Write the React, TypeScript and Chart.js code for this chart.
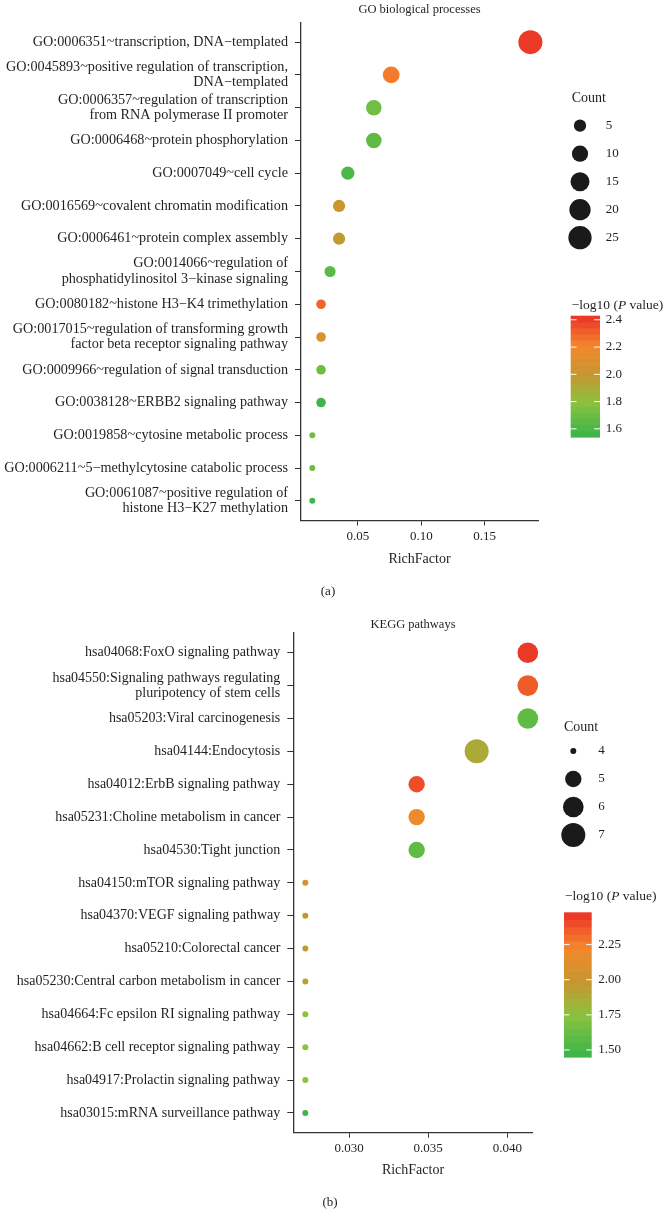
import React, { useEffect, useRef } from 'react';
import { Chart, registerables } from 'chart.js';

Chart.register(...registerables);

// ---------------- DATA ----------------
const goTerms: (string | string[])[] = [
  'GO:0006351~transcription, DNA\u2212templated',
  ['GO:0045893~positive regulation of transcription,', 'DNA\u2212templated'],
  ['GO:0006357~regulation of transcription', 'from RNA polymerase II promoter'],
  'GO:0006468~protein phosphorylation',
  'GO:0007049~cell cycle',
  'GO:0016569~covalent chromatin modification',
  'GO:0006461~protein complex assembly',
  ['GO:0014066~regulation of', 'phosphatidylinositol 3\u2212kinase signaling'],
  'GO:0080182~histone H3\u2212K4 trimethylation',
  ['GO:0017015~regulation of transforming growth', 'factor beta receptor signaling pathway'],
  'GO:0009966~regulation of signal transduction',
  'GO:0038128~ERBB2 signaling pathway',
  'GO:0019858~cytosine metabolic process',
  'GO:0006211~5\u2212methylcytosine catabolic process',
  ['GO:0061087~positive regulation of', 'histone H3\u2212K27 methylation'],
];
const goRichFactor = [0.186, 0.0763, 0.0626, 0.0626, 0.0421, 0.0352, 0.0352, 0.0281, 0.021, 0.021, 0.021, 0.021, 0.0141, 0.0141, 0.0141];
const goCount = [27, 11, 9, 9, 6, 5, 5, 4, 3, 3, 3, 3, 2, 2, 2];
const goLogP = [2.41, 2.24, 1.72, 1.67, 1.61, 2.02, 1.98, 1.65, 2.3, 2.09, 1.71, 1.56, 1.72, 1.71, 1.56];
const goXTicks = [0.05, 0.1, 0.15];
const goCountLegend = [5, 10, 15, 20, 25];
const goColorTicks = [1.6, 1.8, 2.0, 2.2, 2.4];

const keggTerms: (string | string[])[] = [
  'hsa04068:FoxO signaling pathway',
  ['hsa04550:Signaling pathways regulating', 'pluripotency of stem cells'],
  'hsa05203:Viral carcinogenesis',
  'hsa04144:Endocytosis',
  'hsa04012:ErbB signaling pathway',
  'hsa05231:Choline metabolism in cancer',
  'hsa04530:Tight junction',
  'hsa04150:mTOR signaling pathway',
  'hsa04370:VEGF signaling pathway',
  'hsa05210:Colorectal cancer',
  'hsa05230:Central carbon metabolism in cancer',
  'hsa04664:Fc epsilon RI signaling pathway',
  'hsa04662:B cell receptor signaling pathway',
  'hsa04917:Prolactin signaling pathway',
  'hsa03015:mRNA surveillance pathway',
];
const keggRichFactor = [0.04129, 0.04129, 0.04129, 0.03806, 0.03427, 0.03427, 0.03427, 0.02724, 0.02724, 0.02724, 0.02724, 0.02724, 0.02724, 0.02724, 0.02724];
const keggCount = [6, 6, 6, 7, 5, 5, 5, 4, 4, 4, 4, 4, 4, 4, 4];
const keggLogP = [2.46, 2.36, 1.6, 1.88, 2.4, 2.18, 1.6, 2.04, 1.99, 1.96, 1.93, 1.75, 1.75, 1.75, 1.48];
const keggXTicks = [0.03, 0.035, 0.04];
const keggCountLegend = [4, 5, 6, 7];
const keggColorTicks = [1.5, 1.75, 2.0, 2.25];

// ---------------- STYLE ----------------
const FONT = '"Liberation Serif", "Times New Roman", serif';
const TEXT = '#1f1f1f';
const AXIS = '#333333';

const STOPS: [number, [number, number, number]][] = [
  [0, [59, 180, 74]],
  [0.08, [76, 184, 72]],
  [0.29, [140, 194, 63]],
  [0.52, [198, 150, 47]],
  [0.75, [243, 137, 43]],
  [0.9, [240, 85, 42]],
  [1, [233, 50, 38]],
];

function gradColor(f: number): string {
  const t = Math.max(0, Math.min(1, f));
  for (let i = 1; i < STOPS.length; i++) {
    const [f1, c1] = STOPS[i];
    const [f0, c0] = STOPS[i - 1];
    if (t <= f1) {
      const u = (t - f0) / (f1 - f0);
      const c = c0.map((v, k) => Math.round(v + (c1[k] - v) * u));
      return `rgb(${c[0]},${c[1]},${c[2]})`;
    }
  }
  const c = STOPS[STOPS.length - 1][1];
  return `rgb(${c[0]},${c[1]},${c[2]})`;
}

interface PanelCfg {
  terms: (string | string[])[];
  rich: number[];
  count: number[];
  logp: number[];
  xTicks: number[];
  xDecimals: number;
  xMin: number;
  xMax: number;
  countLegend: number[];
  colorTicks: number[];
  colorDecimals: number;
  pMin: number;
  pMax: number;
  dMin: number;
  dMax: number;
  title: string;
  letter: string;
  labelSize: number;
  canvasTop: number;
  canvasHeight: number;
  plotLeft: number;
  plotRight: number;
  plotTop: number;
  plotBottom: number;
  titleY: number;
  xTitleY: number;
  letterX: number;
  letterY: number;
  size: { titleX: number; titleY: number; dotX: number; textX: number; firstY: number; step: number };
  bar: { x: number; w: number; top: number; bottom: number; titleX: number; titleY: number; labelX: number };
}

const panelA: PanelCfg = {
  terms: goTerms, rich: goRichFactor, count: goCount, logp: goLogP,
  xTicks: goXTicks, xDecimals: 2, xMin: 0.0052, xMax: 0.192,
  countLegend: goCountLegend, colorTicks: goColorTicks, colorDecimals: 1,
  pMin: 1.54, pMax: 2.43, dMin: 6, dMax: 24,
  title: 'GO biological processes', letter: '(a)', labelSize: 14.2,
  canvasTop: 0, canvasHeight: 605,
  plotLeft: 301, plotRight: 538, plotTop: 21, plotBottom: 520.5,
  titleY: 10, xTitleY: 559, letterX: 328, letterY: 592,
  size: { titleX: 571.7, titleY: 98, dotX: 580, textX: 605.7, firstY: 125.7, step: 28 },
  bar: { x: 570.7, w: 29.3, top: 315.7, bottom: 437, titleX: 571.7, titleY: 305, labelX: 605.7 },
};

const panelB: PanelCfg = {
  terms: keggTerms, rich: keggRichFactor, count: keggCount, logp: keggLogP,
  xTicks: keggXTicks, xDecimals: 3, xMin: 0.02648, xMax: 0.0416,
  countLegend: keggCountLegend, colorTicks: keggColorTicks, colorDecimals: 2,
  pMin: 1.45, pMax: 2.48, dMin: 6, dMax: 24,
  title: 'KEGG pathways', letter: '(b)', labelSize: 14,
  canvasTop: 605, canvasHeight: 619,
  plotLeft: 293.3, plotRight: 532.7, plotTop: 633, plotBottom: 1132.7,
  titleY: 625, xTitleY: 1170.7, letterX: 330, letterY: 1203,
  size: { titleX: 564, titleY: 727, dotX: 573.3, textX: 598.3, firstY: 751, step: 28 },
  bar: { x: 564, w: 27.7, top: 912.3, bottom: 1057, titleX: 565, titleY: 896, labelX: 598.3 },
};

function makeRadius(cfg: PanelCfg) {
  const cMin = Math.min(...cfg.count);
  const cMax = Math.max(...cfg.count);
  return (c: number) => (cfg.dMin + (cfg.dMax - cfg.dMin) * Math.sqrt(Math.max(0, (c - cMin) / (cMax - cMin)))) / 2;
}

function makeOverlay(cfg: PanelCfg) {
  const radius = makeRadius(cfg);
  return {
    id: 'overlay' + cfg.letter,
    afterDraw(chart: any) {
      const ctx: CanvasRenderingContext2D = chart.ctx;
      const { left, right } = chart.chartArea;
      const top = cfg.canvasTop;
      ctx.save();
      ctx.fillStyle = TEXT;
      ctx.textBaseline = 'middle';
      ctx.textAlign = 'center';
      ctx.font = `12.5px ${FONT}`;
      ctx.fillText(cfg.title, (left + right) / 2, cfg.titleY - top);
      ctx.font = `14px ${FONT}`;
      ctx.fillText('RichFactor', (left + right) / 2, cfg.xTitleY - top);
      ctx.font = `13px ${FONT}`;
      ctx.fillText(cfg.letter, cfg.letterX, cfg.letterY - top);

      // size legend
      const s = cfg.size;
      ctx.textAlign = 'left';
      ctx.font = `14px ${FONT}`;
      ctx.fillText('Count', s.titleX, s.titleY - top);
      cfg.countLegend.forEach((c, i) => {
        const y = s.firstY + i * s.step - top;
        ctx.beginPath();
        ctx.arc(s.dotX, y, radius(c), 0, Math.PI * 2);
        ctx.fillStyle = '#1a1a1a';
        ctx.fill();
        ctx.fillStyle = TEXT;
        ctx.font = `13px ${FONT}`;
        ctx.fillText(String(c), s.textX, y);
      });

      // colorbar
      const b = cfg.bar;
      const h = b.bottom - b.top;
      const nbin = 20;
      for (let i = 0; i < nbin; i++) {
        const y0 = b.bottom - ((i + 1) / nbin) * h - top;
        ctx.fillStyle = gradColor((i + 0.5) / nbin);
        ctx.fillRect(b.x, y0, b.w, h / nbin + 0.6);
      }
      ctx.strokeStyle = '#ffffff';
      ctx.lineWidth = 1;
      cfg.colorTicks.forEach((t) => {
        const y = b.bottom - ((t - cfg.pMin) / (cfg.pMax - cfg.pMin)) * h - top;
        const tl = b.w / 5;
        ctx.beginPath();
        ctx.moveTo(b.x, y);
        ctx.lineTo(b.x + tl, y);
        ctx.moveTo(b.x + b.w - tl, y);
        ctx.lineTo(b.x + b.w, y);
        ctx.stroke();
        ctx.fillStyle = TEXT;
        ctx.font = `13px ${FONT}`;
        ctx.fillText(t.toFixed(cfg.colorDecimals), b.labelX, y);
      });
      // colorbar title with italic P
      const ty = b.titleY - top;
      let x = b.titleX;
      const parts: [string, string][] = [
        ['\u2212log10 (', `13.5px ${FONT}`],
        ['P', `italic 13.5px ${FONT}`],
        [' value)', `13.5px ${FONT}`],
      ];
      ctx.fillStyle = TEXT;
      parts.forEach(([txt, f]) => {
        ctx.font = f;
        ctx.fillText(txt, x, ty);
        x += ctx.measureText(txt).width;
      });
      ctx.restore();
    },
  };
}

function Panel({ cfg }: { cfg: PanelCfg }) {
  const ref = useRef<HTMLCanvasElement | null>(null);
  useEffect(() => {
    if (!ref.current) return;
    const radius = makeRadius(cfg);
    const xAxisHeight = cfg.canvasTop + cfg.canvasHeight - cfg.plotBottom;
    const chart = new Chart(ref.current, {
      type: 'bubble',
      data: {
        datasets: [
          {
            data: cfg.rich.map((v, i) => ({ x: v, y: i, r: radius(cfg.count[i]) })),
            backgroundColor: cfg.logp.map((p) => gradColor((p - cfg.pMin) / (cfg.pMax - cfg.pMin))),
            borderWidth: 0,
            clip: false as any,
          },
        ],
      },
      options: {
        responsive: false,
        animation: false,
        devicePixelRatio: 1,
        layout: {
          padding: {
            left: 0,
            right: 665 - cfg.plotRight,
            top: cfg.plotTop - cfg.canvasTop,
            bottom: 0,
          },
        },
        plugins: {
          legend: { display: false },
          tooltip: { enabled: false },
          title: { display: false },
        },
        scales: {
          x: {
            type: 'linear',
            position: 'bottom',
            min: cfg.xMin,
            max: cfg.xMax,
            afterBuildTicks: (scale: any) => {
              scale.ticks = cfg.xTicks.map((v) => ({ value: v }));
            },
            afterFit: (scale: any) => {
              scale.height = xAxisHeight;
            },
            ticks: {
              callback: (v: any) => Number(v).toFixed(cfg.xDecimals),
              font: { family: FONT, size: 13 },
              color: TEXT,
              padding: 3,
              maxRotation: 0,
              autoSkip: false,
            },
            grid: { drawOnChartArea: false, drawTicks: true, tickLength: 5, color: AXIS, lineWidth: 1 },
            border: { display: true, color: AXIS, width: 1.3 },
          },
          y: {
            type: 'linear',
            position: 'left',
            reverse: true,
            min: -0.6,
            max: cfg.terms.length - 1 + 0.6,
            afterBuildTicks: (scale: any) => {
              scale.ticks = cfg.terms.map((_, i) => ({ value: i }));
            },
            afterFit: (scale: any) => {
              scale.width = cfg.plotLeft;
            },
            ticks: {
              callback: (v: any) => cfg.terms[Math.round(Number(v))] as any,
              font: { family: FONT, size: cfg.labelSize, lineHeight: 1.09 },
              color: TEXT,
              padding: 7,
              autoSkip: false,
            },
            grid: { drawOnChartArea: false, drawTicks: true, tickLength: 6, color: AXIS, lineWidth: 1 },
            border: { display: true, color: AXIS, width: 1.3 },
          },
        },
      },
      plugins: [makeOverlay(cfg)],
    } as any);
    return () => chart.destroy();
  }, [cfg]);
  return (
    <canvas
      ref={ref}
      width={665}
      height={cfg.canvasHeight}
      style={{ position: 'absolute', left: 0, top: cfg.canvasTop, width: 665, height: cfg.canvasHeight }}
    />
  );
}

export default function App() {
  return (
    <div style={{ position: 'absolute', left: 0, top: 0, width: 665, height: 1224, background: '#ffffff', overflow: 'hidden' }}>
      <Panel cfg={panelA} />
      <Panel cfg={panelB} />
    </div>
  );
}
